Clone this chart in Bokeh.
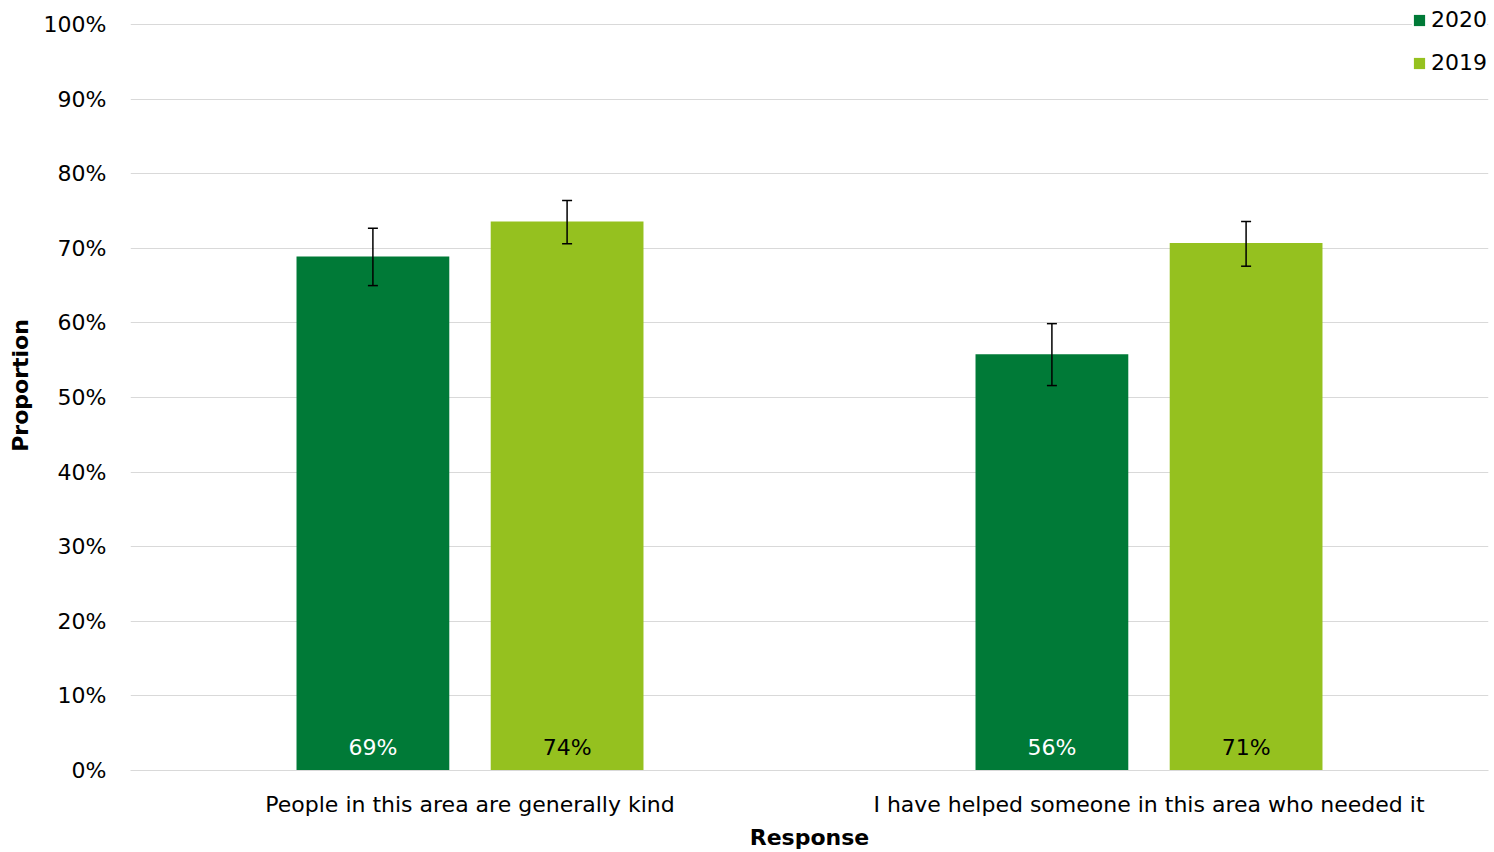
from bokeh.plotting import figure
from bokeh.models import ColumnDataSource, FactorRange, NumeralTickFormatter, Whisker, Legend, LegendItem, Range1d, FixedTicker
from bokeh.transform import dodge
from bokeh.core.properties import value
from bokeh.embed import file_html
from bokeh.resources import INLINE

categories = ["People in this area are generally kind", "I have helped someone in this area who needed it"]
years = ["2020", "2019"]
v2020 = [0.689, 0.558]
v2019 = [0.736, 0.707]
lo2020 = [0.650, 0.516]
hi2020 = [0.727, 0.599]
lo2019 = [0.706, 0.676]
hi2019 = [0.764, 0.736]
colors = ["#007A37", "#95C11F"]
label_colors = ["white", "black"]

FONT = "DejaVu Sans"
FS = "22px"

# frame spans screen y 0..770; 100% sits at y=24 (746 px for 0..1)
p = figure(x_range=FactorRange(factors=categories), y_range=Range1d(0, 770 / 746),
           width=1494, height=852, output_backend="svg", toolbar_location=None,
           min_border_left=130, min_border_right=6, min_border_top=0, min_border_bottom=82)
p.outline_line_color = None

offsets = [-0.143, 0.143]
vals = [v2020, v2019]
los = [lo2020, lo2019]
his = [hi2020, hi2019]
items = []
for i, yr in enumerate(years):
    src = ColumnDataSource(dict(cat=categories, val=vals[i], lo=los[i], hi=his[i],
                                lab=[f"{round(v * 100)}%" for v in vals[i]],
                                zero=[0, 0]))
    xd = dodge("cat", offsets[i], range=p.x_range)
    r = p.vbar(x=xd, top="val", width=0.225, source=src, fill_color=colors[i], line_color=None)
    items.append(LegendItem(label=yr, renderers=[r]))
    w = Whisker(base=xd, upper="hi", lower="lo", source=src, line_color="black", line_width=1.5,
                level="annotation")
    w.upper_head.size = 10
    w.lower_head.size = 10
    w.upper_head.line_width = 1.5
    w.lower_head.line_width = 1.5
    p.add_layout(w)
    p.text(x=xd, y="zero", text="lab", source=src, text_align="center", text_baseline="middle",
           y_offset=-23, text_color=label_colors[i], text_font=value(FONT), text_font_size=FS)

legend = Legend(items=items, location=(1282, 695), glyph_width=14, glyph_height=14,
                label_text_font=FONT, label_text_font_size="22px", label_text_color="black",
                label_standoff=5, label_height=22, spacing=18, padding=4, margin=0,
                border_line_color=None, background_fill_color="white", background_fill_alpha=1.0)
p.add_layout(legend)

p.yaxis.ticker = FixedTicker(ticks=[i / 10 for i in range(11)])
p.yaxis.formatter = NumeralTickFormatter(format="0%")
p.yaxis.axis_line_color = None
p.yaxis.major_tick_line_color = None
p.yaxis.minor_tick_line_color = None
p.yaxis.major_label_standoff = 18
p.yaxis.major_label_text_font = FONT
p.yaxis.major_label_text_font_size = FS
p.yaxis.major_label_text_color = "black"
p.yaxis.axis_label = "Proportion"
p.yaxis.axis_label_text_font = FONT
p.yaxis.axis_label_text_font_size = FS
p.yaxis.axis_label_text_font_style = "bold"
p.yaxis.axis_label_text_color = "black"
p.yaxis.axis_label_standoff = 8

p.xaxis.axis_line_color = "#d9d9d9"
p.xaxis.major_tick_line_color = None
p.xaxis.minor_tick_line_color = None
p.xaxis.major_label_standoff = 15
p.xaxis.major_label_text_font = FONT
p.xaxis.major_label_text_font_size = FS
p.xaxis.major_label_text_color = "black"
p.xaxis.axis_label = "Response"
p.xaxis.axis_label_text_font = FONT
p.xaxis.axis_label_text_font_size = FS
p.xaxis.axis_label_text_font_style = "bold"
p.xaxis.axis_label_text_color = "black"
p.xaxis.axis_label_standoff = 5

p.xgrid.grid_line_color = None
p.ygrid.grid_line_color = "#d9d9d9"
p.ygrid.grid_line_width = 1

open("out.html", "w").write(file_html(p, INLINE))
